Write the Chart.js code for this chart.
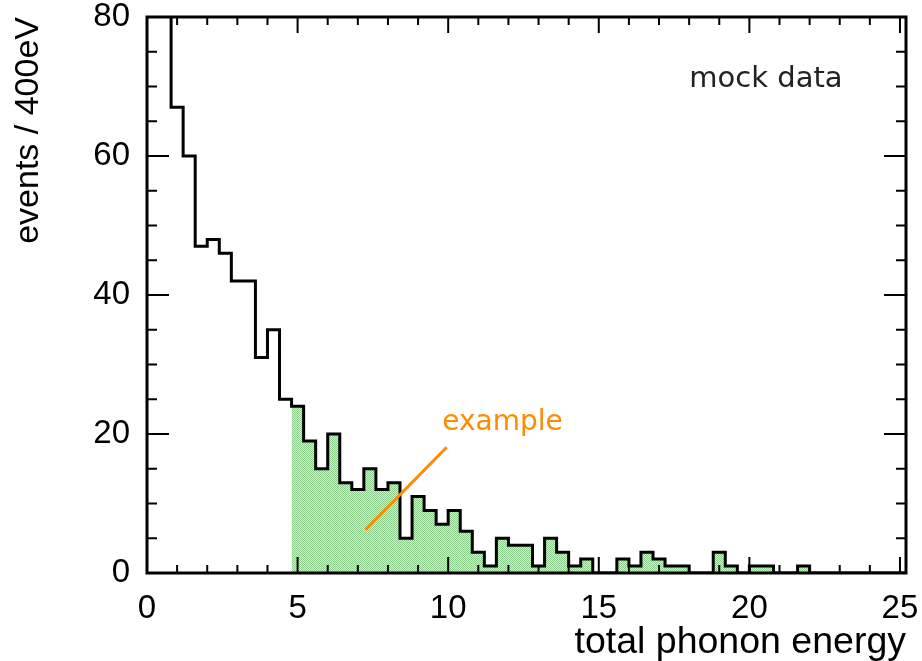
<!DOCTYPE html>
<html>
<head>
<meta charset="utf-8">
<script src="https://cdn.jsdelivr.net/npm/chart.js@4.4.1/dist/chart.umd.min.js"></script>
<style>
  html, body { margin: 0; padding: 0; background: #fff; }
  #wrap { width: 922px; height: 661px; }
</style>
</head>
<body>
<div id="wrap"><canvas id="histo" width="922" height="661"></canvas></div>
<script>
// histogram: 400 eV bins from 0 to 25.2
const binStart = 0;
const binWidth = 0.4;
const xMax = 25.2;
// events per bin (first two bins are off scale)
const counts = [
  140, 95, 67, 60, 47, 48, 46, 42, 42, 31,
  35, 25, 24, 19, 15, 20, 13, 12, 15, 12,
  13, 5, 11, 9, 7, 9, 6, 3, 1, 5,
  4, 4, 1, 5, 3, 1, 2, 0, 0, 2,
  1, 3, 2, 1, 1, 0, 0, 3, 1, 0,
  1, 1, 0, 0, 1, 0, 0, 0, 0, 0,
  0, 0, 0
];
// shaded part starts at this bin
const fillFromBin = 12;

const xTickValues = [0, 5, 10, 15, 20, 25];
const yTickValues = [0, 20, 40, 60, 80];

// orange "example" pointer, in data units
const exampleLineX = [7.25, 9.95];
const exampleLineY = [6.2, 18.1];
const exampleLabel = { text: "example", x: 9.8, y: 21.6 };
const mockLabel = { text: "mock data", x: 20.55, y: 71 };

function edgeOf(i) {
  return binStart + i * binWidth;
}

// stepped points: value held from left edge to next edge
const outlinePts = counts.map((v, i) => ({ x: edgeOf(i), y: v }));
outlinePts.push({ x: xMax, y: counts[counts.length - 1] });

const fillPts = [];
for (let i = fillFromBin; i < counts.length; i++) {
  fillPts.push({ x: edgeOf(i), y: counts[i] });
}
fillPts.push({ x: xMax, y: counts[counts.length - 1] });

// little green checker pattern like the original hatch
function makePattern() {
  const c = document.createElement("canvas");
  c.width = 2; c.height = 2;
  const g = c.getContext("2d");
  g.fillStyle = "#d6efd6";
  g.fillRect(0, 0, 2, 2);
  g.fillStyle = "#8acb8a";
  g.fillRect(0, 0, 1, 1);
  g.fillRect(1, 1, 1, 1);
  return g.createPattern(c, "repeat");
}

const frameAndTicks = {
  id: "frameAndTicks",
  afterDraw(chart) {
    const { ctx, chartArea: a, scales: { x, y } } = chart;
    ctx.save();
    ctx.strokeStyle = "#000";
    ctx.lineWidth = 2;
    ctx.beginPath();
    for (let v = 0; v <= 25; v++) {
      const px = x.getPixelForValue(v);
      const len = v % 5 === 0 ? 16 : 8;
      ctx.moveTo(px, a.bottom); ctx.lineTo(px, a.bottom - len);
      ctx.moveTo(px, a.top); ctx.lineTo(px, a.top + len);
    }
    for (let v = 0; v <= 80; v += 5) {
      const py = y.getPixelForValue(v);
      const len = v % 20 === 0 ? 22 : 10;
      ctx.moveTo(a.left, py); ctx.lineTo(a.left + len, py);
      ctx.moveTo(a.right, py); ctx.lineTo(a.right - len, py);
    }
    ctx.stroke();
    ctx.lineWidth = 3;
    ctx.strokeRect(a.left, a.top, a.right - a.left, a.bottom - a.top);

    ctx.textBaseline = "middle";
    ctx.fillStyle = "#222";
    ctx.font = "29px 'DejaVu Sans'";
    ctx.textAlign = "center";
    ctx.fillText(mockLabel.text, x.getPixelForValue(mockLabel.x), y.getPixelForValue(mockLabel.y));
    ctx.fillStyle = "#ff8c00";
    ctx.font = "28px 'DejaVu Sans'";
    ctx.textAlign = "left";
    ctx.fillText(exampleLabel.text, x.getPixelForValue(exampleLabel.x), y.getPixelForValue(exampleLabel.y));
    ctx.restore();
  }
};

new Chart(document.getElementById("histo"), {
  type: "line",
  data: {
    datasets: [
      {
        label: "example",
        data: exampleLineX.map((v, i) => ({ x: v, y: exampleLineY[i] })),
        borderColor: "#ff8c00",
        borderWidth: 3,
        pointRadius: 0,
        fill: false
      },
      {
        label: "mock data",
        data: outlinePts,
        stepped: true,
        borderColor: "#000",
        borderWidth: 3,
        pointRadius: 0,
        fill: false
      },
      {
        label: "selected",
        data: fillPts,
        stepped: true,
        borderWidth: 0,
        borderColor: "rgba(0,0,0,0)",
        backgroundColor: makePattern(),
        pointRadius: 0,
        fill: "origin"
      }
    ]
  },
  options: {
    responsive: false,
    animation: false,
    events: [],
    layout: { autoPadding: false, padding: { top: 17, right: 16, left: 0, bottom: 0 } },
    plugins: { legend: { display: false }, tooltip: { enabled: false } },
    scales: {
      x: {
        type: "linear",
        min: 0,
        max: xMax,
        grid: { display: false, drawTicks: false },
        border: { display: false },
        afterBuildTicks: s => { s.ticks = xTickValues.map(v => ({ value: v })); },
        afterFit: s => { s.height = 88; s.paddingLeft = 0; s.paddingRight = 0; },
        ticks: {
          color: "#000",
          padding: 16,
          maxRotation: 0,
          font: { family: "'Liberation Sans', Arial", size: 33 }
        },
        title: {
          display: true,
          text: "total phonon energy",
          align: "end",
          color: "#000",
          padding: { top: 0, bottom: 0 },
          font: { family: "'Liberation Sans', Arial", size: 37.5, lineHeight: 1.0 }
        }
      },
      y: {
        min: 0,
        max: 80,
        grid: { display: false, drawTicks: false },
        border: { display: false },
        afterBuildTicks: s => { s.ticks = yTickValues.map(v => ({ value: v })); },
        afterFit: s => { s.width = 147; s.paddingTop = 0; s.paddingBottom = 0; },
        ticks: {
          color: "#000",
          padding: 17,
          font: { family: "'Liberation Sans', Arial", size: 33 }
        },
        title: {
          display: true,
          text: "events / 400eV",
          align: "end",
          color: "#000",
          padding: { top: 8, bottom: 0 },
          font: { family: "'Liberation Sans', Arial", size: 34 }
        }
      }
    }
  },
  plugins: [frameAndTicks]
});
</script>
</body>
</html>
